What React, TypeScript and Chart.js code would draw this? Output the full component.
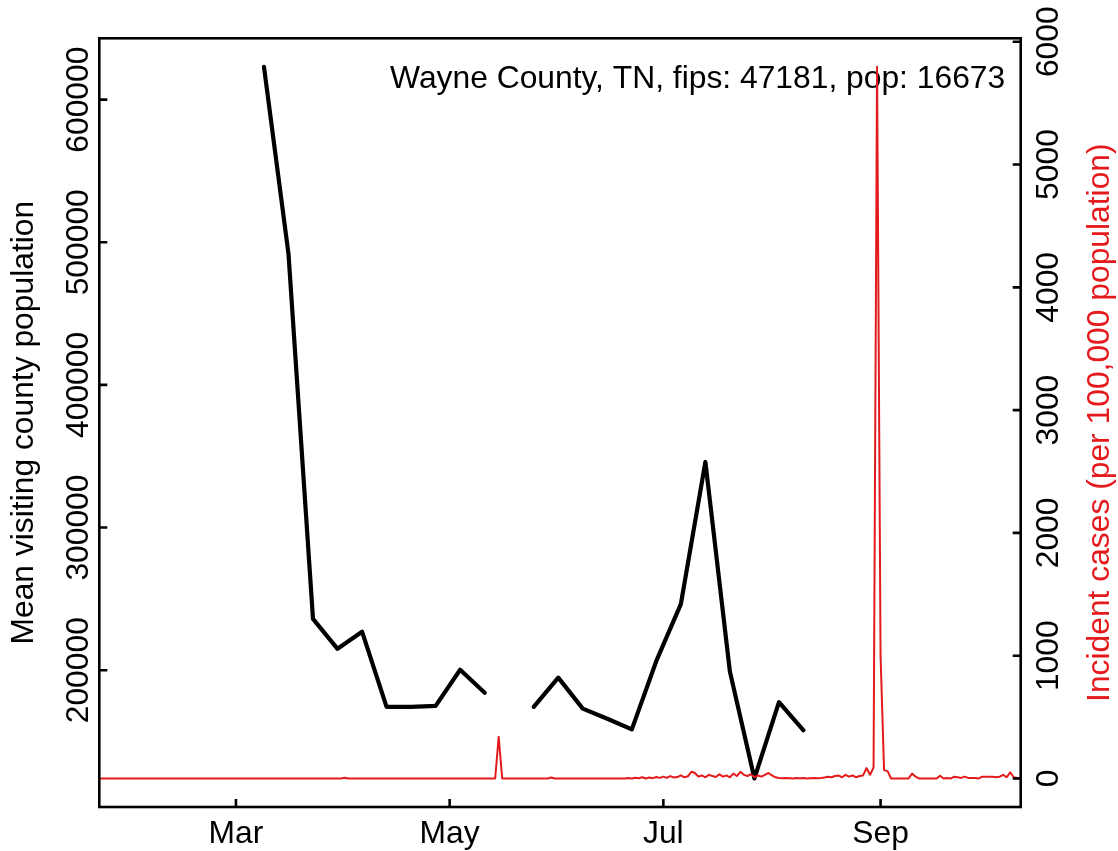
import React, { useEffect, useRef } from "react";
import { Chart, registerables } from "chart.js";

Chart.register(...registerables);

// ---- data ----
// mobility: weekly mean visiting county population (week start, day-of-year 2020)
const visitDays = [69, 76, 83, 90, 97, 104, 111, 118, 125, 132, 139, 146, 153, 160, 167, 174, 181, 188, 195, 202, 209, 216, 223];
const visitValues: (number | null)[] = [
  623000, 492000, 236000, 215000, 227000, 174300, 174300, 175000, 200300, 184200, null,
  174300, 194800, 173100, 166000, 158500, 206500, 246300, 346000, 199000, 124100, 177600, 157900,
];

// incident cases per 100,000, daily, Jan 22 .. Oct 11 2020
const casesFirstDay = 22; // Jan 22 (day-of-year)
const casesJan = [0, 0, 0, 0, 0, 0, 0, 0, 0, 0];
const casesFeb = [0, 0, 0, 0, 0, 0, 0, 0, 0, 0, 0, 0, 0, 0, 0, 0, 0, 0, 0, 0, 0, 0, 0, 0, 0, 0, 0, 0, 0];
const casesMar = [0, 0, 0, 0, 0, 0, 0, 0, 0, 0, 0, 0, 0, 0, 0, 0, 0, 0, 0, 0, 0, 0, 0, 0, 0, 0, 0, 0, 0, 0, 0];
const casesApr = [6, 0, 0, 0, 0, 0, 0, 0, 0, 0, 0, 0, 0, 0, 0, 0, 0, 0, 0, 0, 0, 0, 0, 0, 0, 0, 0, 0, 0, 0];
const casesMay = [0, 0, 0, 0, 0, 0, 0, 0, 0, 0, 0, 0, 0, 0, 340, 0, 0, 0, 0, 0, 0, 0, 0, 0, 0, 0, 0, 0, 0, 8, 0];
const casesJun = [0, 0, 0, 0, 0, 0, 0, 0, 0, 0, 0, 0, 0, 0, 0, 0, 0, 0, 0, 0, 4, 0, 6, 2, 10, 0, 8, 3, 12, 5];
const casesJul = [15, 5, 20, 8, 12, 25, 10, 18, 55, 45, 15, 25, 10, 30, 20, 12, 35, 15, 25, 10, 40, 20, 55, 30, 20, 35, 10, 25, 15, 30, 45];
const casesAug = [25, 10, 5, 3, 5, 3, 0, 5, 3, 5, 0, 3, 5, 3, 5, 8, 15, 10, 20, 25, 10, 30, 15, 25, 10, 20, 25, 85, 30, 90, 5796];
const casesSep = [1000, 68, 60, 0, 0, 0, 0, 0, 0, 40, 15, 0, 0, 0, 0, 0, 0, 22, 0, 5, 0, 15, 10, 5, 15, 5, 5, 5, 0, 15];
const casesOct = [15, 15, 15, 10, 15, 30, 10, 50, 10, 5, 5];

const xMin = 22;  // Jan 22
const xMax = 285; // Oct 11

const leftTicks = [200000, 300000, 400000, 500000, 600000];
const rightTicks = [0, 1000, 2000, 3000, 4000, 5000, 6000];
const monthTickDays = [61, 122, 183, 245];
const monthTickLabels = ["Mar", "May", "Jul", "Sep"];

const leftMin = 104100;
const leftMax = 643000;
const rightMin = -232;
const rightMax = 6028;

const titleText = "Wayne County, TN, fips: 47181, pop: 16673";
const leftTitle = "Mean visiting county population";
const rightTitle = "Incident cases (per 100,000 population)";

const RED = "#E41A1C";
const FONT = '31.8px "Liberation Sans", Arial, sans-serif';

export default function App() {
  const ref = useRef<HTMLCanvasElement | null>(null);

  useEffect(() => {
    const canvas = ref.current;
    if (!canvas) return;

    const cases = [
      ...casesJan, ...casesFeb, ...casesMar, ...casesApr, ...casesMay,
      ...casesJun, ...casesJul, ...casesAug, ...casesSep, ...casesOct,
    ];
    const caseData = cases.map((v, i) => ({ x: casesFirstDay + i, y: v }));
    const visitData = visitDays.map((d, i) => ({ x: d, y: visitValues[i] }));

    const overlay = {
      id: "overlay",
      beforeDatasetDraw(chart: any, args: any) {
        if (args.index !== 0) return;
        const ctx = chart.ctx;
        const a = chart.chartArea;
        ctx.save();
        ctx.font = FONT;
        ctx.fillStyle = "#000";
        ctx.textAlign = "right";
        ctx.textBaseline = "alphabetic";
        ctx.fillText(titleText, a.right - 15.5, a.top + 50);
        ctx.restore();
      },
      afterDraw(chart: any) {
        const ctx = chart.ctx;
        const a = chart.chartArea;
        const sx = chart.scales.x;
        const sy = chart.scales.y;
        const sy2 = chart.scales.y2;
        ctx.save();
        ctx.strokeStyle = "#000";
        ctx.lineWidth = 2.6;
        ctx.lineCap = "butt";
        ctx.strokeRect(a.left, a.top, a.right - a.left, a.bottom - a.top);
        const tl = 8;
        ctx.beginPath();
        leftTicks.forEach((v) => {
          const y = sy.getPixelForValue(v);
          ctx.moveTo(a.left, y);
          ctx.lineTo(a.left + tl, y);
        });
        rightTicks.forEach((v) => {
          const y = sy2.getPixelForValue(v);
          ctx.moveTo(a.right, y);
          ctx.lineTo(a.right - tl, y);
        });
        monthTickDays.forEach((d) => {
          const x = sx.getPixelForValue(d);
          ctx.moveTo(x, a.bottom);
          ctx.lineTo(x, a.bottom - tl);
        });
        ctx.stroke();

        ctx.font = FONT;
        ctx.fillStyle = "#000";
        ctx.textBaseline = "alphabetic";
        ctx.textAlign = "center";
        monthTickDays.forEach((d, i) => {
          const x = sx.getPixelForValue(d);
          ctx.fillText(monthTickLabels[i], x, a.bottom + 36.3);
        });

        const rotText = (t: string, x: number, y: number, color: string) => {
          ctx.save();
          ctx.translate(x, y);
          ctx.rotate(-Math.PI / 2);
          ctx.fillStyle = color;
          ctx.textAlign = "center";
          ctx.textBaseline = "alphabetic";
          ctx.fillText(t, 0, 0);
          ctx.restore();
        };
        leftTicks.forEach((v) => rotText(String(v), a.left - 11, sy.getPixelForValue(v), "#000"));
        rightTicks.forEach((v) => rotText(String(v), a.right + 37.6, sy2.getPixelForValue(v), "#000"));
        const midY = (a.top + a.bottom) / 2;
        rotText(leftTitle, a.left - 66, midY, "#000");
        rotText(rightTitle, a.right + 88, midY, RED);
        ctx.restore();
      },
    };

    const chart = new Chart(canvas, {
      type: "line",
      data: {
        datasets: [
          {
            label: "cases",
            data: caseData,
            yAxisID: "y2",
            borderColor: RED,
            borderWidth: 2,
            pointRadius: 0,
            tension: 0,
            fill: false,
            borderJoinStyle: "round",
            borderCapStyle: "round",
          },
          {
            label: "visit",
            data: visitData,
            yAxisID: "y",
            borderColor: "#000",
            borderWidth: 4.2,
            pointRadius: 0,
            tension: 0,
            fill: false,
            spanGaps: false,
            borderJoinStyle: "round",
            borderCapStyle: "round",
          },
        ],
      } as any,
      options: {
        animation: false,
        responsive: false,
        events: [],
        layout: { padding: { top: 38.3, left: 0, right: 0, bottom: 0 } },
        plugins: { legend: { display: false }, tooltip: { enabled: false } },
        scales: {
          x: {
            type: "linear",
            position: "bottom",
            min: xMin,
            max: xMax,
            grid: { display: false, drawTicks: false },
            border: { display: false },
            ticks: { display: false },
            afterFit: (s: any) => { s.height = 851 - 807; },
          },
          y: {
            type: "linear",
            position: "left",
            min: leftMin,
            max: leftMax,
            grid: { display: false, drawTicks: false },
            border: { display: false },
            ticks: { display: false },
            afterFit: (s: any) => { s.width = 99.3; },
          },
          y2: {
            type: "linear",
            position: "right",
            min: rightMin,
            max: rightMax,
            grid: { display: false, drawTicks: false },
            border: { display: false },
            ticks: { display: false },
            afterFit: (s: any) => { s.width = 1118 - 1020.7; },
          },
        },
      } as any,
      plugins: [overlay],
    });

    return () => chart.destroy();
  }, []);

  return (
    <div style={{ position: "fixed", left: 0, top: 0, width: 1118, height: 851, background: "#fff" }}>
      <canvas ref={ref} width={1118} height={851} style={{ width: 1118, height: 851, display: "block" }} />
    </div>
  );
}
